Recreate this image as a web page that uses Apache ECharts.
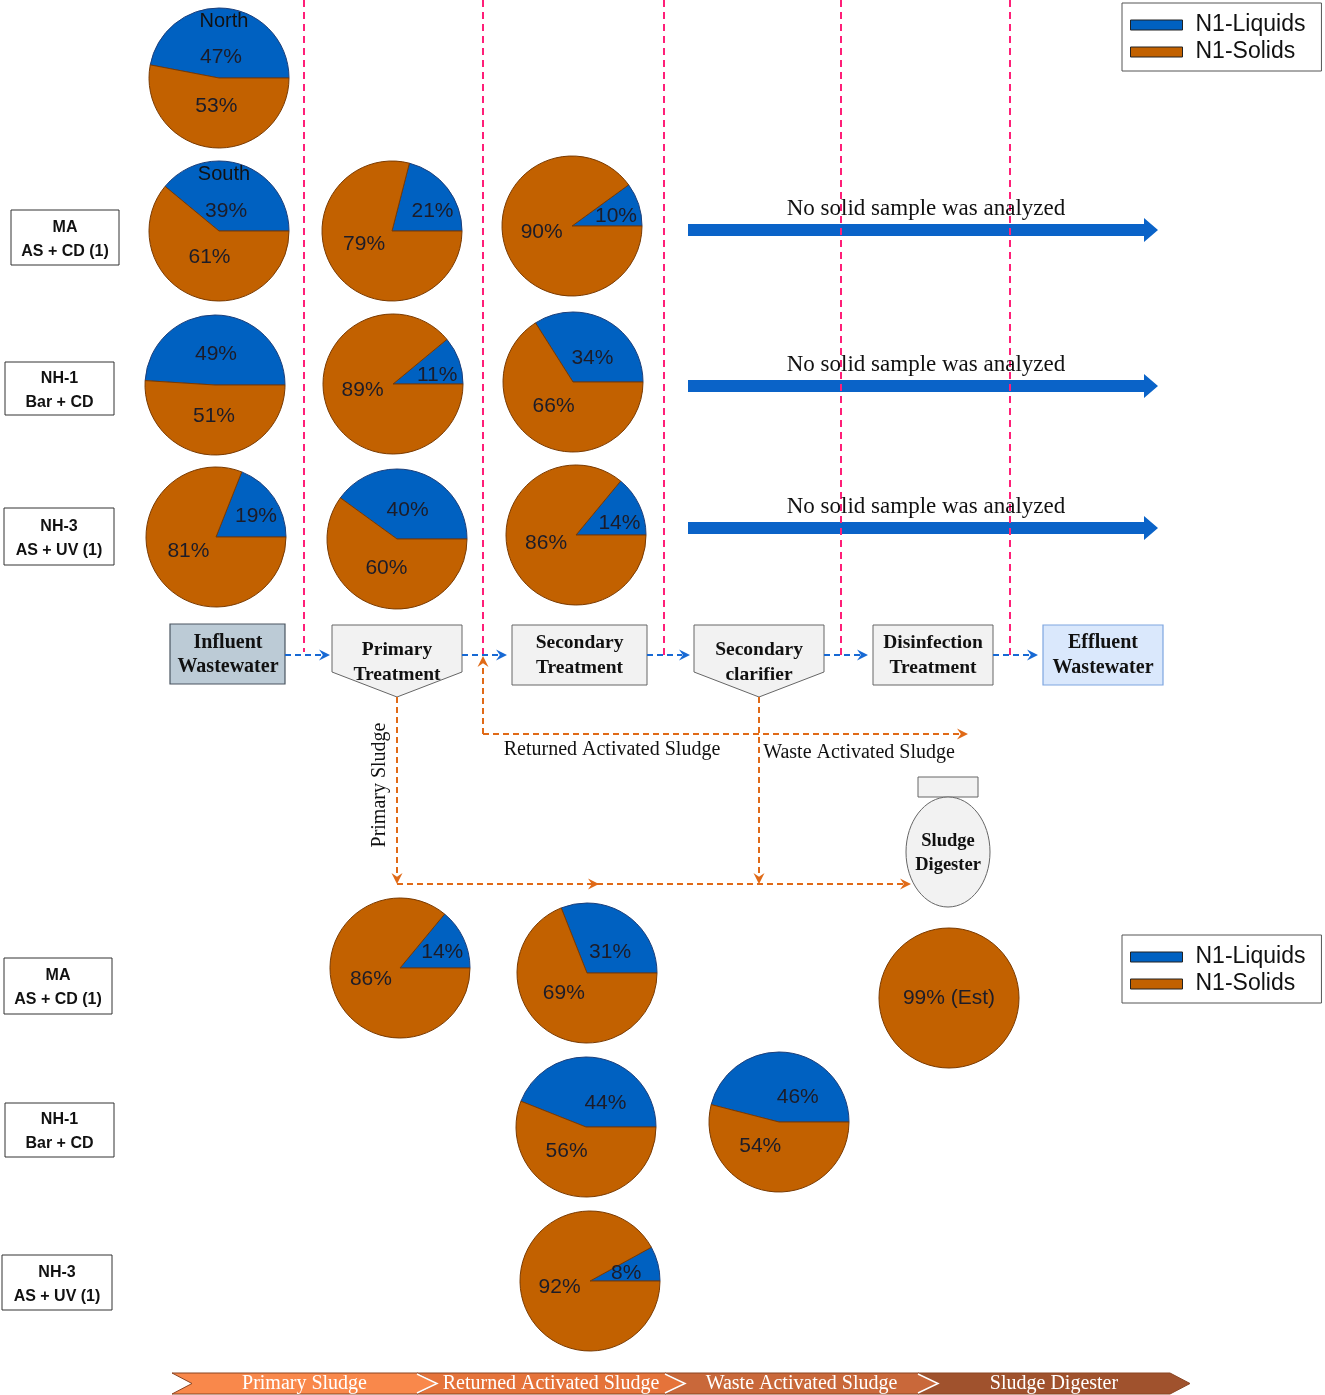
<!DOCTYPE html>
<html><head><meta charset="utf-8">
<script src="https://cdn.jsdelivr.net/npm/echarts@6/dist/echarts.min.js"></script>
<style>html,body{margin:0;padding:0;background:#fff}#c{width:1325px;height:1395px}</style>
</head><body><div id="c"></div>
<script>
// ---------------- DATA ----------------
const seriesNames = ['N1-Liquids', 'N1-Solids'];
const pieIds = ['MA North Influent', 'MA South Influent', 'MA Primary', 'MA Secondary',
  'NH-1 Influent', 'NH-1 Primary', 'NH-1 Secondary',
  'NH-3 Influent', 'NH-3 Primary', 'NH-3 Secondary',
  'MA Primary Sludge', 'MA Returned AS', 'MA Sludge Digester',
  'NH-1 Returned AS', 'NH-1 Waste AS', 'NH-3 Returned AS'];
const liquidsPct = [47, 39, 21, 10, 49, 11, 34, 19, 40, 14, 14, 31, null, 44, 46, 8];
const solidsPct  = [53, 61, 79, 90, 51, 89, 66, 81, 60, 86, 86, 69, 99, 56, 54, 92];
const estimated  = [false, false, false, false, false, false, false, false, false, false, false, false, true, false, false, false];
const pieTitles  = ['North', 'South', '', '', '', '', '', '', '', '', '', '', '', '', '', ''];
const rowLabelsTop = ['MA\nAS + CD (1)', 'NH-1\nBar + CD', 'NH-3\nAS + UV (1)'];
const rowLabelsBottom = ['MA\nAS + CD (1)', 'NH-1\nBar + CD', 'NH-3\nAS + UV (1)'];
const processSteps = ['Influent\nWastewater', 'Primary\nTreatment', 'Secondary\nTreatment', 'Secondary\nclarifier', 'Disinfection\nTreatment', 'Effluent\nWastewater'];
const noSampleText = 'No solid sample was analyzed';
const sludgeLabels = ['Returned Activated Sludge', 'Waste Activated Sludge', 'Primary Sludge'];
const bannerLabels = ['Primary Sludge', 'Returned Activated Sludge', 'Waste Activated Sludge', 'Sludge Digester'];

// ---------------- LAYOUT / STYLE ----------------
const pieCenters = [[219, 78], [219, 231], [392, 231], [572, 226],
  [215, 385], [393, 384], [573, 382],
  [216, 537], [397, 539], [576, 535],
  [400, 968], [587, 973], [949, 998],
  [586, 1127], [779, 1122], [590, 1281]];
// rotation (degrees) of each pie's value labels away from the slice mid angle
const labelAngleShift = [0, 0, -12, -6, 0, -9, -10, -7, -2, -10, -5, -14, 0, -28, -30, -3];
const pieRadius = 70;
const BLUE = '#0061c1', ORANGE = '#c26100';
const PINK = '#ff1f78', FLOWBLUE = '#1769d4', SLUDGE = '#e06a17';
const SANS = '"Liberation Sans", Arial, sans-serif';
const SERIF = '"Liberation Serif", "Times New Roman", serif';

// label distance from the pie centre
function labelRadius(frac, titled, isFirst) {
  if (titled) return isFirst ? 21 : 28;
  if (frac < 0.09) return 37;
  return frac < 0.25 ? 45 : 31;
}

const series = pieIds.map((id, i) => {
  const vals = [liquidsPct[i], solidsPct[i]];
  const total = vals.reduce((a, v) => a + (v || 0), 0);
  const cols = [[BLUE, '#1d3f7a'], [ORANGE, '#7a3a00']];
  const data = [];
  let acc = 0;
  vals.forEach((v, k) => {
    if (v == null) return;
    const frac = v / total;
    const mid = (acc + frac / 2) * 2 * Math.PI + labelAngleShift[i] * Math.PI / 180;
    acc += frac;
    const R = estimated[i] ? 0 : labelRadius(frac, !!pieTitles[i], k === 0);
    data.push({ name: seriesNames[k], value: v,
      itemStyle: { color: cols[k][0], borderColor: cols[k][1], borderWidth: 1 },
      label: { offset: [R * Math.cos(mid), -R * Math.sin(mid)] } });
  });
  return {
    type: 'pie', name: id, center: pieCenters[i], radius: pieRadius,
    startAngle: 0, clockwise: false, silent: true, animation: false,
    avoidLabelOverlap: false,
    label: { show: true, position: 'center',
      formatter: p => p.value + '%' + (estimated[i] ? ' (Est)' : ''),
      fontSize: 21, fontFamily: SANS, color: '#1c1c28' },
    labelLine: { show: false },
    emphasis: { disabled: true },
    data
  };
});

// ---------------- GRAPHICS ----------------
const G = [];
function line(x1, y1, x2, y2, color, dash, w) {
  G.push({ type: 'line', shape: { x1, y1, x2, y2 }, z: 5,
    style: { stroke: color, lineWidth: w || 2, lineDash: dash || null } });
}
function head(x, y, dir, color, L, H) {
  L = L || 11; H = H || 5.5;
  const n = L * 0.35;
  let pts;
  if (dir === 'r') pts = [[x, y], [x - L, y - H], [x - L + n, y], [x - L, y + H]];
  if (dir === 'l') pts = [[x, y], [x + L, y - H], [x + L - n, y], [x + L, y + H]];
  if (dir === 'd') pts = [[x, y], [x - H, y - L], [x, y - L + n], [x + H, y - L]];
  if (dir === 'u') pts = [[x, y], [x - H, y + L], [x, y + L - n], [x + H, y + L]];
  G.push({ type: 'polygon', shape: { points: pts }, z: 6, style: { fill: color } });
}
function text(t, x, y, font, fill, extra, lh) {
  G.push(Object.assign({ type: 'text', x, y, z: 8,
    style: { text: t, x: 0, y: 0, font, fill: fill || '#111', align: 'center', verticalAlign: 'middle', lineHeight: lh || 24 } }, extra || {}));
}

// row label boxes
const rowBoxesTop = [[11, 210, 108, 55], [5, 362, 109, 53], [4, 508, 110, 57]];
const rowBoxesBottom = [[4, 958, 108, 56], [5, 1103, 109, 54], [2, 1255, 110, 55]];
function rowBox(b, label) {
  G.push({ type: 'rect', shape: { x: b[0], y: b[1], width: b[2], height: b[3] }, z: 4,
    style: { fill: '#fff', stroke: '#333', lineWidth: 1 } });
  text(label, b[0] + b[2] / 2, b[1] + b[3] / 2 + 2, 'bold 16px ' + SANS, '#111', null, 24);
}
rowBoxesTop.forEach((b, i) => rowBox(b, rowLabelsTop[i]));
rowBoxesBottom.forEach((b, i) => rowBox(b, rowLabelsBottom[i]));

// pie titles (North / South)
pieTitles.forEach((t, i) => { if (t) text(t, pieCenters[i][0] + 5, pieCenters[i][1] - 57, '20px ' + SANS, '#111'); });

// "No solid sample" arrows
[230, 386, 528].forEach(y => {
  G.push({ type: 'polygon', z: 3, shape: { points: [[688, y - 6], [1144, y - 6], [1144, y - 12], [1158, y], [1144, y + 12], [1144, y + 6], [688, y + 6]] },
    style: { fill: '#0a63c8' } });
  text(noSampleText, 926, y - 21, '23px ' + SERIF, '#111');
});

// pink dashed verticals
[[304, 652], [483, 656], [664, 655], [841, 655], [1010, 655]].forEach(p => line(p[0], 0, p[0], p[1], PINK, [7, 5], 2));

// process boxes
const boxStyle = { fill: '#f2f2f2', stroke: '#666', lineWidth: 1 };
G.push({ type: 'rect', z: 4, shape: { x: 170, y: 624, width: 115, height: 60 }, style: { fill: '#bccbd6', stroke: '#4a5560', lineWidth: 1.2 } });
G.push({ type: 'polygon', z: 4, shape: { points: [[332, 625], [462, 625], [462, 672], [397, 697], [332, 672]] }, style: boxStyle });
G.push({ type: 'rect', z: 4, shape: { x: 512, y: 625, width: 135, height: 60 }, style: boxStyle });
G.push({ type: 'polygon', z: 4, shape: { points: [[694, 625], [824, 625], [824, 672], [759, 697], [694, 672]] }, style: boxStyle });
G.push({ type: 'rect', z: 4, shape: { x: 873, y: 625, width: 120, height: 60 }, style: boxStyle });
G.push({ type: 'rect', z: 4, shape: { x: 1043, y: 625, width: 120, height: 60 }, style: { fill: '#dae8fc', stroke: '#7ea6e0', lineWidth: 1.2 } });
const stepPos = [[228, 655, 20], [397, 662.5, 19.5], [579.5, 655.5, 19.5], [759, 662.5, 19.5], [933, 655.5, 19.5], [1103, 655.5, 20]];
processSteps.forEach((t, i) => text(t, stepPos[i][0], stepPos[i][1], 'bold ' + stepPos[i][2] + 'px ' + SERIF, '#111', null, 24.5));

// blue flow arrows
[[285, 330], [462, 507], [647, 690], [824, 868], [993, 1038]].forEach(s => {
  line(s[0], 655, s[1] - 8, 655, FLOWBLUE, [6, 4], 2);
  head(s[1], 655, 'r', FLOWBLUE);
});

// sludge lines
line(483, 734, 483, 664, SLUDGE, [6, 4], 2); head(483, 656, 'u', SLUDGE);
line(483, 734, 960, 734, SLUDGE, [6, 4], 2); head(968, 734, 'r', SLUDGE);
line(397, 697, 397, 876, SLUDGE, [6, 4], 2); head(397, 884, 'd', SLUDGE);
line(759, 697, 759, 876, SLUDGE, [6, 4], 2); head(759, 884, 'd', SLUDGE);
line(397, 884, 903, 884, SLUDGE, [6, 4], 2); head(599, 884, 'r', SLUDGE); head(911, 884, 'r', SLUDGE);
text(sludgeLabels[0], 612, 750, '20px ' + SERIF, '#111');
text(sludgeLabels[1], 859, 753, '20px ' + SERIF, '#111');
text(sludgeLabels[2], 380, 785, '20px ' + SERIF, '#111', { rotation: Math.PI / 2 });

// sludge digester
G.push({ type: 'rect', z: 4, shape: { x: 918, y: 777, width: 60, height: 20 }, style: { fill: '#f2f2f2', stroke: '#666', lineWidth: 1 } });
G.push({ type: 'ellipse', z: 4, shape: { cx: 948, cy: 852, rx: 42, ry: 55 }, style: { fill: '#f2f2f2', stroke: '#666', lineWidth: 1 } });
text('Sludge\nDigester', 948, 853.5, 'bold 18.5px ' + SERIF, '#111');

// banner chevrons
const bannerSegs = [[172, 417], [417, 665], [665, 918], [918, 1170]];
const bannerColors = ['#f9884b', '#e5733a', '#c9683a', '#a0522d'];
const bTop = 1373, bBot = 1394, bMid = (bTop + bBot) / 2, d = 20;
bannerSegs.forEach((s, i) => {
  G.push({ type: 'polygon', z: 4, shape: { points: [[s[0], bTop], [s[1], bTop], [s[1] + d, bMid], [s[1], bBot], [s[0], bBot], [s[0] + d, bMid]] },
    style: { fill: bannerColors[i], stroke: '#8a4422', lineWidth: 1 } });
});
bannerSegs.forEach((s, i) => {
  if (i > 0) G.push({ type: 'polyline', z: 5, shape: { points: [[s[0], bTop + 1], [s[0] + d, bMid], [s[0], bBot - 1]] }, style: { stroke: '#fff', lineWidth: 1.5, fill: null } });
  text(bannerLabels[i], (s[0] + s[1]) / 2 + d / 2, bMid + 0.5, '20px ' + SERIF, '#fff');
});

// ---------------- CHART ----------------
const legendBase = {
  data: seriesNames, orient: 'vertical', left: 1122, icon: 'rect',
  itemWidth: 52, itemHeight: 10, itemGap: 3, selectedMode: false,
  itemStyle: { borderColor: '#222', borderWidth: 1 },
  textStyle: { fontSize: 23, fontFamily: SANS, color: '#111', lineHeight: 24, padding: [0, 0, 0, 8] },
  borderColor: '#555', borderWidth: 1, padding: [10, 16, 7, 8], backgroundColor: '#fff'
};
const chart = echarts.init(document.getElementById('c'), null, { renderer: 'canvas', width: 1325, height: 1395 });
chart.setOption({
  backgroundColor: '#fff',
  animation: false,
  color: [BLUE, ORANGE],
  legend: [Object.assign({}, legendBase, { top: 3 }), Object.assign({}, legendBase, { top: 935 })],
  series,
  graphic: { elements: G }
});
</script></body></html>
